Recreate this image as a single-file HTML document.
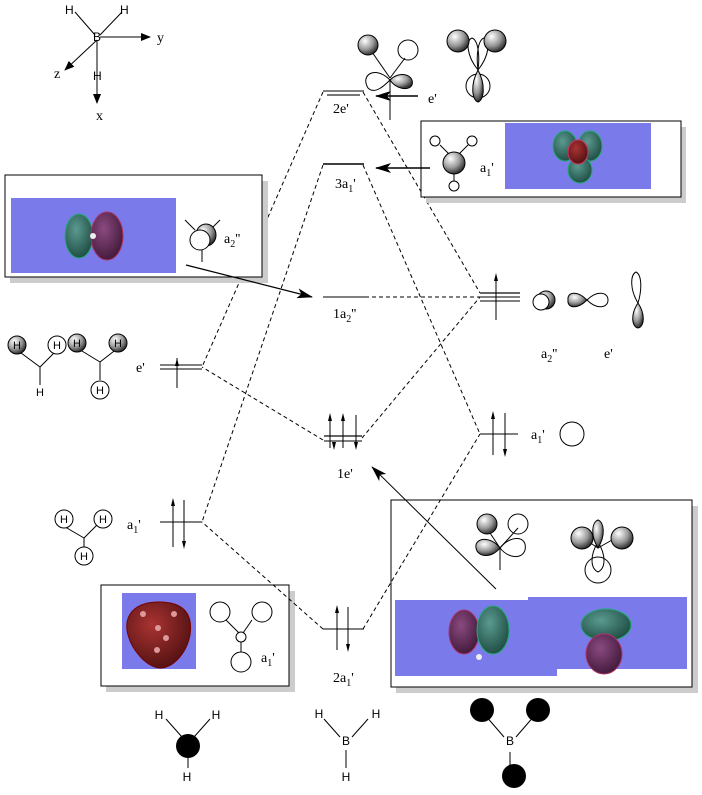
<!DOCTYPE html>
<html><head><meta charset="utf-8"><style>
html,body{margin:0;padding:0;background:#fff;}
svg{display:block;font-family:"Liberation Serif",serif;}
</style></head><body>
<svg width="702" height="795" viewBox="0 0 702 795" xmlns="http://www.w3.org/2000/svg">
<defs>
<radialGradient id="g" cx="35%" cy="30%" r="70%"><stop offset="0" stop-color="#fff"/><stop offset="0.6" stop-color="#999"/><stop offset="1" stop-color="#333"/></radialGradient>
<radialGradient id="red" cx="40%" cy="35%" r="70%"><stop offset="0" stop-color="#a33"/><stop offset="1" stop-color="#501010"/></radialGradient>
<radialGradient id="grn" cx="40%" cy="35%" r="70%"><stop offset="0" stop-color="#5a9a90"/><stop offset="1" stop-color="#1d4a40"/></radialGradient>
<radialGradient id="pur" cx="40%" cy="35%" r="70%"><stop offset="0" stop-color="#8a4a80"/><stop offset="1" stop-color="#401838"/></radialGradient>
<marker id="ah" markerWidth="10" markerHeight="8" refX="9" refY="4" orient="auto" markerUnits="userSpaceOnUse"><path d="M0,0 L10,4 L0,8 Z" fill="#000"/></marker>
<marker id="ab" markerWidth="16" markerHeight="10" refX="15" refY="5" orient="auto" markerUnits="userSpaceOnUse"><path d="M0,0 L16,5 L0,10 L4,5 Z" fill="#000"/></marker>
</defs>
<g fill="none" stroke="#000">
<line x1="75" y1="12" x2="95" y2="35"/><line x1="122" y1="12" x2="100" y2="35"/>
<line x1="100" y1="37" x2="150" y2="37" marker-end="url(#ah)"/>
<line x1="97" y1="40" x2="65" y2="70" marker-end="url(#ah)"/>
<line x1="97" y1="40" x2="97" y2="103" marker-end="url(#ah)"/>
</g>
<g font-size="12" font-family="Liberation Sans,sans-serif">
<text x="65" y="14">H</text><text x="120" y="14">H</text><text x="93" y="41">B</text><text x="93" y="80">H</text>
</g>
<g font-size="14"><text x="157" y="42">y</text><text x="54" y="78">z</text><text x="96" y="120">x</text></g>

<g stroke="#000" stroke-dasharray="4,3" fill="none">
<line x1="323" y1="92" x2="202" y2="367"/>
<line x1="363" y1="92" x2="480" y2="293"/>
<line x1="323" y1="165" x2="202" y2="522"/>
<line x1="363" y1="165" x2="480" y2="434"/>
<line x1="365" y1="297" x2="480" y2="297"/>
<line x1="323" y1="440" x2="202" y2="367"/>
<line x1="362" y1="438" x2="480" y2="297"/>
</g>

<g stroke="#000" fill="none">
<line x1="323" y1="91" x2="364" y2="91"/><line x1="327" y1="95" x2="360" y2="95" stroke="#777" stroke-width="2"/>
<line x1="323" y1="164" x2="364" y2="164" stroke-width="1.5"/>
<line x1="323" y1="297" x2="365" y2="297"/>
<line x1="160" y1="365" x2="202" y2="365"/><line x1="160" y1="369" x2="202" y2="369"/>
<line x1="177" y1="358" x2="177" y2="388"/>
<line x1="324" y1="436" x2="362" y2="436" stroke="#666" stroke-width="2"/><line x1="324" y1="441" x2="362" y2="441"/>
<line x1="330" y1="415" x2="330" y2="448"/><line x1="343" y1="415" x2="343" y2="448"/><line x1="356" y1="415" x2="356" y2="448"/>
<line x1="480" y1="293" x2="520" y2="293" stroke="#666" stroke-width="2"/><line x1="480" y1="297" x2="520" y2="297"/><line x1="480" y1="301" x2="520" y2="301"/>
<line x1="496" y1="275" x2="496" y2="320"/>
<line x1="480" y1="434" x2="518" y2="434"/>
<line x1="493" y1="413" x2="493" y2="455"/><line x1="505" y1="413" x2="505" y2="455"/>
<line x1="160" y1="522" x2="202" y2="522"/>
<line x1="173" y1="500" x2="173" y2="547"/><line x1="184" y1="500" x2="184" y2="547"/>
<line x1="323" y1="629" x2="364" y2="629"/>
<line x1="337" y1="607" x2="337" y2="650"/><line x1="348" y1="607" x2="348" y2="650"/>
</g>
<g fill="#000">
<path d="M177,358 l-2,8 h4z"/><path d="M496,273 l-2,8 h4z"/>
<path d="M330,413 l-2,8 h4z"/><path d="M343,413 l-2,8 h4z"/><path d="M334,450 l-2,-8 h4z"/><path d="M356,450 l-2,-8 h4z"/>
<path d="M493,411 l-2,8 h4z"/><path d="M505,457 l-2,-8 h4z"/>
<path d="M173,498 l-2,8 h4z"/><path d="M184,549 l-2,-8 h4z"/>
<path d="M337,605 l-2,8 h4z"/><path d="M348,652 l-2,-8 h4z"/>
</g>

<g font-size="14">
<text x="333" y="113">2e'</text>
<text x="335" y="188">3a<tspan font-size="10" dy="4">1</tspan><tspan dy="-4">'</tspan></text>
<text x="333" y="318">1a<tspan font-size="10" dy="4">2</tspan><tspan dy="-4">''</tspan></text>
<text x="337" y="478">1e'</text>
<text x="333" y="682">2a<tspan font-size="10" dy="4">1</tspan><tspan dy="-4">'</tspan></text>
<text x="428" y="103">e'</text>
<text x="136" y="372">e'</text>
<text x="127" y="529">a<tspan font-size="10" dy="4">1</tspan><tspan dy="-4">'</tspan></text>
<text x="531" y="439">a<tspan font-size="10" dy="4">1</tspan><tspan dy="-4">'</tspan></text>
<text x="541" y="358">a<tspan font-size="10" dy="4">2</tspan><tspan dy="-4">''</tspan></text>
<text x="604" y="358">e'</text>
<text x="548" y="612">e'</text>
</g>

<g stroke="#000" fill="none">
<line x1="390" y1="80" x2="390" y2="120"/><line x1="372" y1="52" x2="390" y2="78"/><line x1="405" y1="58" x2="390" y2="78"/>
<path d="M390,80 C375,65 360,75 368,88 C375,95 385,85 390,80Z"/>
<circle cx="408" cy="50" r="10"/>
<circle cx="478" cy="86" r="12"/>
<path d="M478,70 C466,55 466,40 472,38 C478,40 480,55 478,70"/><path d="M478,70 C490,55 490,40 484,38 C478,40 476,55 478,70"/>
</g>
<circle cx="368" cy="45" r="10" fill="url(#g)" stroke="#000"/>
<path d="M390,80 C400,70 415,75 412,85 C408,92 395,88 390,80Z" fill="url(#g)" stroke="#000"/>
<circle cx="458" cy="41" r="11" fill="url(#g)" stroke="#000"/>
<circle cx="495" cy="41" r="11" fill="url(#g)" stroke="#000"/>
<path d="M478,70 C470,85 472,100 478,102 C484,100 486,85 478,70Z" fill="url(#g)" stroke="#000"/>
<line x1="418" y1="96" x2="376" y2="96" stroke="#000" stroke-width="1.5" marker-end="url(#ab)"/>

<rect x="426" y="127" width="260" height="76" fill="#ccc"/>
<rect x="421" y="121" width="260" height="76" fill="#fff" stroke="#000"/>
<rect x="505" y="123" width="146" height="66" fill="#7a7aea"/>
<ellipse cx="565" cy="146" rx="12" ry="15" fill="url(#grn)" stroke="#2a7"/>
<ellipse cx="590" cy="146" rx="12" ry="15" fill="url(#grn)" stroke="#2a7"/>
<ellipse cx="580" cy="170" rx="12" ry="13" fill="url(#grn)" stroke="#2a7"/>
<ellipse cx="578" cy="152" rx="10" ry="12" fill="url(#red)" stroke="#c36"/>
<g stroke="#000" fill="none"><line x1="440" y1="145" x2="453" y2="158"/><line x1="468" y1="145" x2="455" y2="158"/><line x1="454" y1="165" x2="454" y2="182"/>
<circle cx="435" cy="141" r="5" fill="#fff"/><circle cx="472" cy="141" r="5" fill="#fff"/><circle cx="454" cy="186" r="5" fill="#fff"/></g>
<circle cx="454" cy="163" r="11" fill="url(#g)" stroke="#000"/>
<text x="480" y="172" font-size="14">a<tspan font-size="10" dy="4">1</tspan><tspan dy="-4">'</tspan></text>
<line x1="430" y1="168" x2="376" y2="168" stroke="#000" stroke-width="1.5" marker-end="url(#ab)"/>

<rect x="10" y="181" width="258" height="102" fill="#ccc"/>
<rect x="5" y="175" width="257" height="102" fill="#fff" stroke="#000"/>
<rect x="11" y="198" width="165" height="75" fill="#7a7aea"/>
<ellipse cx="79" cy="236" rx="14" ry="22" fill="url(#grn)" stroke="#2a7"/>
<ellipse cx="107" cy="236" rx="16" ry="24" fill="url(#pur)" stroke="#a36"/>
<circle cx="93" cy="236" r="3" fill="#eee"/>
<g stroke="#000" fill="none"><line x1="185" y1="220" x2="195" y2="230"/><line x1="220" y1="220" x2="210" y2="230"/><line x1="202" y1="245" x2="202" y2="262"/></g>
<ellipse cx="206" cy="235" rx="10" ry="11" fill="url(#g)" stroke="#000"/>
<circle cx="200" cy="240" r="10" fill="#fff" stroke="#000"/>
<text x="224" y="243" font-size="14">a<tspan font-size="10" dy="4">2</tspan><tspan dy="-4">''</tspan></text>
<line x1="186" y1="265" x2="312" y2="297" stroke="#000" stroke-width="1.2" marker-end="url(#ab)"/>

<ellipse cx="546" cy="300" rx="9" ry="9" fill="url(#g)" stroke="#000"/>
<circle cx="541" cy="302" r="8" fill="#fff" stroke="#000"/>
<path d="M587,300 C577,290 567,292 568,300 C567,308 577,310 587,300Z" fill="url(#g)" stroke="#000"/>
<path d="M587,300 C597,290 608,292 608,300 C608,308 597,310 587,300Z" fill="#fff" stroke="#000"/>
<path d="M638,303 C630,290 630,275 636,272 C642,275 642,290 638,303Z" fill="#fff" stroke="#000"/>
<path d="M638,303 C630,315 632,327 638,328 C644,327 646,315 638,303Z" fill="url(#g)" stroke="#000"/>
<circle cx="572" cy="434" r="12" fill="#fff" stroke="#000"/>

<g stroke="#000" fill="none"><line x1="17" y1="350" x2="40" y2="367"/><line x1="57" y1="350" x2="40" y2="367"/><line x1="40" y1="367" x2="40" y2="385"/>
<line x1="77" y1="348" x2="100" y2="362"/><line x1="118" y1="348" x2="100" y2="362"/><line x1="100" y1="362" x2="100" y2="380"/></g>
<circle cx="17" cy="345" r="9" fill="url(#g)" stroke="#000"/><circle cx="57" cy="345" r="9" fill="#fff" stroke="#000"/>
<circle cx="77" cy="343" r="9" fill="url(#g)" stroke="#000"/><circle cx="118" cy="343" r="9" fill="url(#g)" stroke="#000"/>
<circle cx="100" cy="390" r="9" fill="#fff" stroke="#000"/>
<g font-size="11" font-family="Liberation Sans,sans-serif" text-anchor="middle">
<text x="17" y="349">H</text><text x="57" y="349">H</text><text x="77" y="347">H</text><text x="118" y="347">H</text><text x="100" y="394">H</text><text x="40" y="396">H</text>
</g>

<g stroke="#000" fill="none"><line x1="60" y1="524" x2="84" y2="538"/><line x1="98" y1="524" x2="84" y2="538"/><line x1="84" y1="538" x2="84" y2="548"/></g>
<circle cx="64" cy="519" r="9" fill="#fff" stroke="#000"/><circle cx="103" cy="519" r="9" fill="#fff" stroke="#000"/><circle cx="84" cy="556" r="9" fill="#fff" stroke="#000"/>
<g font-size="11" font-family="Liberation Sans,sans-serif" text-anchor="middle"><text x="64" y="523">H</text><text x="103" y="523">H</text><text x="84" y="560">H</text></g>

<rect x="106" y="591" width="189" height="101" fill="#ccc"/>
<rect x="101" y="585" width="188" height="101" fill="#fff" stroke="#000"/>
<rect x="122" y="593" width="74" height="76" fill="#7a7aea"/>
<path d="M159,602 C185,602 193,615 190,635 C186,655 172,668 160,668 C148,668 130,650 127,630 C125,612 138,602 159,602Z" fill="url(#red)" stroke="#700"/>
<g fill="#d99"><circle cx="143" cy="614" r="3"/><circle cx="174" cy="614" r="3"/><circle cx="158" cy="628" r="3"/><circle cx="166" cy="638" r="3"/><circle cx="157" cy="650" r="3"/></g>
<g stroke="#000" fill="none"><line x1="226" y1="620" x2="239" y2="633"/><line x1="252" y1="620" x2="243" y2="633"/><line x1="241" y1="642" x2="241" y2="652"/>
<circle cx="220" cy="612" r="10" fill="#fff"/><circle cx="262" cy="612" r="10" fill="#fff"/><circle cx="241" cy="637" r="5" fill="#fff"/><circle cx="241" cy="662" r="10" fill="#fff"/></g>
<text x="261" y="662" font-size="14">a<tspan font-size="10" dy="4">1</tspan><tspan dy="-4">'</tspan></text>

<rect x="396" y="506" width="302" height="187" fill="#ccc"/>
<rect x="391" y="500" width="301" height="187" fill="#fff" stroke="#000"/>
<rect x="395" y="600" width="162" height="76" fill="#7a7aea"/>
<rect x="528" y="597" width="159" height="72" fill="#7a7aea"/>
<ellipse cx="464" cy="632" rx="15" ry="22" fill="url(#pur)" stroke="#a36"/>
<ellipse cx="493" cy="630" rx="16" ry="24" fill="url(#grn)" stroke="#2a7"/>
<circle cx="479" cy="657" r="3" fill="#eee"/>
<ellipse cx="606" cy="625" rx="25" ry="16" fill="url(#grn)" stroke="#2a7"/>
<ellipse cx="604" cy="654" rx="18" ry="20" fill="url(#pur)" stroke="#a36"/>
<g stroke="#000" fill="none"><line x1="488" y1="530" x2="500" y2="548"/><line x1="518" y1="528" x2="500" y2="548"/><line x1="500" y1="548" x2="500" y2="570"/>
<path d="M500,548 C510,535 528,535 525,550 C522,560 508,558 500,548Z"/>
<circle cx="518" cy="524" r="10"/>
<circle cx="598" cy="570" r="13"/>
<path d="M598,542 C590,555 590,568 598,572 C606,568 606,555 598,542"/>
<line x1="586" y1="540" x2="598" y2="548"/><line x1="612" y1="540" x2="598" y2="548"/>
</g>
<circle cx="487" cy="524" r="10" fill="url(#g)" stroke="#000"/>
<path d="M500,548 C490,535 474,538 476,548 C478,558 492,558 500,548Z" fill="url(#g)" stroke="#000"/>
<circle cx="582" cy="538" r="11" fill="url(#g)" stroke="#000"/>
<circle cx="622" cy="538" r="11" fill="url(#g)" stroke="#000"/>
<path d="M598,548 C590,535 592,522 598,520 C604,522 606,535 598,548Z" fill="url(#g)" stroke="#000"/>

<!-- dashed lines over lower boxes -->
<g stroke="#000" stroke-dasharray="4,3" fill="none">
<line x1="323" y1="629" x2="202" y2="522"/>
<line x1="363" y1="629" x2="480" y2="434"/>
</g>
<!-- arrow to 1e' -->
<line x1="496" y1="589" x2="372" y2="467" stroke="#000" marker-end="url(#ab)"/>

<g stroke="#000" fill="none">
<line x1="166" y1="719" x2="182" y2="737"/><line x1="210" y1="719" x2="194" y2="737"/><line x1="188" y1="755" x2="188" y2="768"/>
<line x1="324" y1="719" x2="340" y2="737"/><line x1="368" y1="719" x2="352" y2="737"/><line x1="346" y1="750" x2="346" y2="768"/>
<line x1="485" y1="715" x2="504" y2="737"/><line x1="535" y1="715" x2="516" y2="737"/><line x1="510" y1="752" x2="510" y2="768"/>
</g>
<circle cx="188" cy="746" r="12" fill="#000"/>
<circle cx="482" cy="710" r="12" fill="#000"/><circle cx="538" cy="710" r="12" fill="#000"/><circle cx="514" cy="776" r="12" fill="#000"/>
<g font-size="12" font-family="Liberation Sans,sans-serif" text-anchor="middle">
<text x="159" y="719">H</text><text x="216" y="719">H</text><text x="187" y="781">H</text>
<text x="319" y="718">H</text><text x="376" y="718">H</text><text x="346" y="745">B</text><text x="346" y="781">H</text>
<text x="510" y="745">B</text>
</g>
</svg>
</body></html>
